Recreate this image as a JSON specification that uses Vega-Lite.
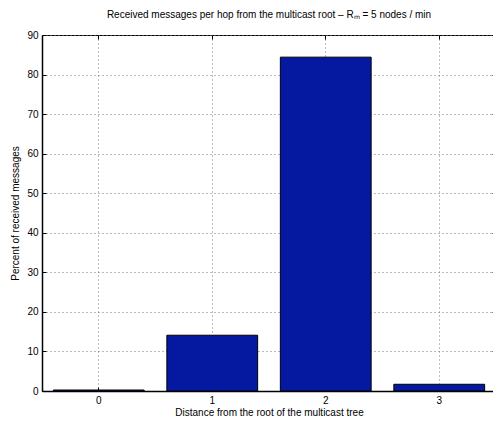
{
  "$schema": "https://vega.github.io/schema/vega-lite/v6.json",
  "autosize": {"type": "none"},
  "padding": {"left": 42, "top": 35, "right": 0, "bottom": 32},
  "width": 454,
  "height": 356,
  "background": "white",
  "config": {
    "font": "Liberation Sans",
    "view": {"stroke": "black", "strokeWidth": 1},
    "axis": {
      "labelFont": "Liberation Sans",
      "titleFont": "Liberation Sans",
      "labelFontSize": 10,
      "titleFontSize": 10,
      "titleFontWeight": "normal",
      "labelColor": "black",
      "titleColor": "black",
      "domainColor": "black",
      "tickColor": "black",
      "gridColor": "#777777",
      "gridDash": [1, 3],
      "gridOpacity": 1
    }
  },
  "title": {
    "text": "Received messages per hop from the multicast root – Rₘ = 5 nodes / min",
    "font": "Liberation Sans",
    "fontSize": 10,
    "fontWeight": "normal",
    "color": "black",
    "offset": 10,
    "anchor": "middle"
  },
  "data": {
    "values": [
      {"hop": 0, "percent": 0.25},
      {"hop": 1, "percent": 14.1},
      {"hop": 2, "percent": 84.4},
      {"hop": 3, "percent": 1.7}
    ]
  },
  "layer": [
    {
      "mark": {"type": "bar", "color": "#0519A0", "stroke": "black", "strokeWidth": 1},
      "encoding": {
        "x": {
          "field": "hop",
          "type": "ordinal",
          "scale": {"paddingInner": 0.2, "paddingOuter": 0.1},
          "axis": {
            "title": "Distance from the root of the multicast tree",
            "labelAngle": 0,
            "grid": true,
            "tickSize": -4,
            "labelPadding": 8,
            "titlePadding": 2,
            "domain": true,
            "domainWidth": 1.5
          }
        },
        "y": {
          "field": "percent",
          "type": "quantitative",
          "scale": {"domain": [0, 90], "nice": false},
          "axis": {
            "title": "Percent of received messages",
            "values": [0, 10, 20, 30, 40, 50, 60, 70, 80, 90],
            "grid": true,
            "tickSize": -4,
            "labelPadding": 8,
            "titlePadding": 6,
            "domainWidth": 1.5
          }
        }
      }
    },
    {
      "mark": {"type": "bar", "opacity": 0},
      "encoding": {
        "x": {
          "field": "hop",
          "type": "ordinal",
          "axis": {"orient": "top", "title": null, "labels": false, "grid": false, "tickSize": -4, "domain": false}
        },
        "y": {
          "field": "percent",
          "type": "quantitative",
          "axis": {"orient": "right", "title": null, "labels": false, "grid": false, "tickSize": -4, "domain": false, "values": [0, 10, 20, 30, 40, 50, 60, 70, 80, 90]}
        }
      }
    }
  ],
  "resolve": {"axis": {"x": "independent", "y": "independent"}}
}
